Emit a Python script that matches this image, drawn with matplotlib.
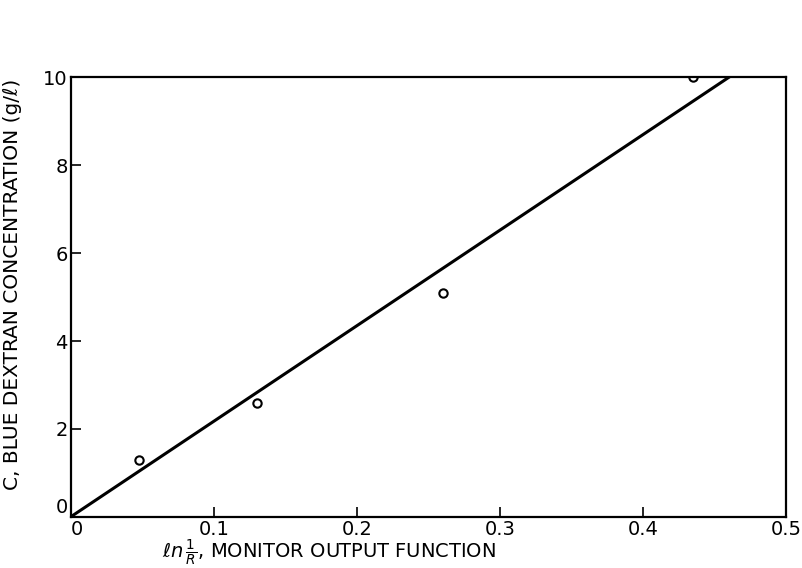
import matplotlib.pyplot as plt
import numpy as np

# measured points (ln 1/R vs concentration)
x_pts = [0.048, 0.13, 0.26, 0.435]
y_pts = [1.3, 2.6, 5.1, 10.0]

# fitted line end points
x_fit = [0.0, 0.46]
y_fit = [0.0, 10.0]

xticks = [0, 0.1, 0.2, 0.3, 0.4, 0.5]
xticklabels = ['0', '0.1', '0.2', '0.3', '0.4', '0.5']
yticks = [0, 2, 4, 6, 8, 10]

fig = plt.figure(figsize=(8.03, 5.68), dpi=100)
ax = fig.add_axes([0.088, 0.09, 0.891, 0.774])

ax.plot(x_fit, y_fit, color='black', lw=2.2)
ax.plot(x_pts, y_pts, 'o', mfc='white', mec='black', ms=6, mew=1.5)

ax.set_xlim(0, 0.5)
ax.set_ylim(0, 10)
ax.set_xticks(xticks)
ax.set_xticklabels(xticklabels)
ax.set_yticks(yticks)
ax.tick_params(direction='in', length=7, width=1.2, labelsize=14, pad=2)
for s in ax.spines.values():
    s.set_linewidth(1.6)

# keep the two corner zeros apart
ax.get_xticklabels()[0].set_horizontalalignment('left')
ax.get_yticklabels()[0].set_verticalalignment('bottom')

fig.text(0.41, 0.0, r'$\ell n\,\frac{1}{R}$, MONITOR OUTPUT FUNCTION',
         fontsize=14, ha='center', va='bottom')
ax.set_ylabel('C, BLUE DEXTRAN CONCENTRATION (g/ℓ)', fontsize=14.5)
ax.yaxis.set_label_coords(-0.068, 0.53)

fig.savefig('out.png', dpi=100)
